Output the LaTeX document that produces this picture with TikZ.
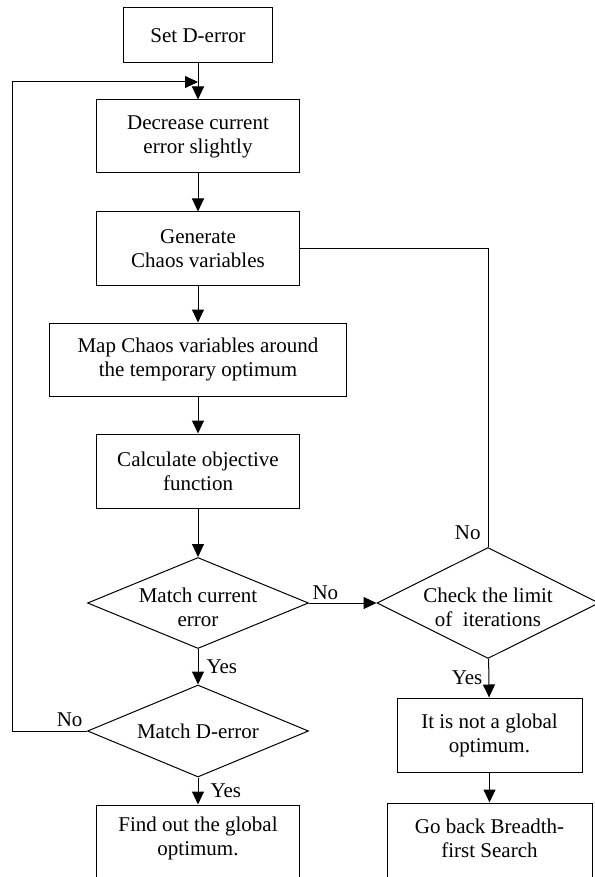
\documentclass[tikz,border=0pt]{standalone}
\usepackage{fontspec}
\setmainfont{Liberation Serif}
\usetikzlibrary{shapes.geometric,arrows.meta}

\begin{document}
\begin{tikzpicture}[x=1pt,y=-1pt,
  txt/.style={font=\fontsize{21}{24}\selectfont,align=center},
  box/.style={txt,draw,line width=1pt,inner sep=0pt,minimum width=203pt,minimum height=73pt},
  dec/.style={draw,diamond,line width=1pt,inner sep=0pt,minimum width=221pt,minimum height=91pt},
  flow/.style={line width=1pt,-{Triangle[length=13pt,width=12pt]}},
  line/.style={line width=1pt}]
\useasboundingbox (0,0) rectangle (594,877);

\node[box,minimum width=149pt,minimum height=55pt] (set) at (198,35.5) {Set D-error};
\node[box] (decr) at (198,136.5) {Decrease current\\error slightly};
\node[box] (gen) at (198,248.5) {Generate\\Chaos variables};
\node[box,minimum width=297pt] (map) at (198,359.5) {Map Chaos variables around\\the temporary optimum};
\node[box,minimum height=74pt] (calc) at (198,471) {Calculate objective\\function};
\node[dec,label={[txt,yshift=-4pt]center:Match current\\error}] (matchcur) at (198,603) {};
\node[dec,minimum height=92pt,label={[txt]center:Match D-error}] (matchd) at (198,731) {};
% bottom boxes run past the lower edge
\node[box,minimum height=90pt,label={[txt,yshift=12pt]center:Find out the global\\optimum.}] (find) at (198,850) {};
\node[dec,minimum width=222pt,minimum height=111pt,label={[txt,yshift=-4pt]center:Check the limit\\of~ iterations}] (check) at (488,603) {};
\node[box,minimum width=185pt,minimum height=74pt] (notglob) at (489.5,735) {It is not a global\\optimum.};
\node[box,minimum width=205pt,minimum height=90pt,label={[txt,yshift=10pt]center:Go back Breadth-\\first Search}] (goback) at (489.5,848) {};
\coordinate (join) at (198,82);

\draw[flow] (set) -- (decr);
\draw[flow] (decr) -- (gen);
\draw[flow] (gen) -- (map);
\draw[flow] (map) -- (calc);
\draw[flow] (calc) -- (matchcur);
\draw[flow] (matchcur) -- node[txt,right,inner sep=8pt]{Yes} (matchd);
\draw[flow] (matchd) -- node[txt,right,inner sep=12pt]{Yes} (find);
\draw[flow] (matchd.west) node[txt,above left,inner sep=4pt]{No} -- ++(-75,0) |- (join);
\draw[flow] (matchcur.east) node[txt,above right,inner sep=3pt]{No} -- (check.west);
\draw[line] (check.north) node[txt,above left,inner sep=7pt]{No} |- (gen.east);
\draw[flow] (check) -- node[txt,left,inner sep=6pt]{Yes} (notglob);
\draw[flow] (notglob) -- (goback);
\end{tikzpicture}
\end{document}
